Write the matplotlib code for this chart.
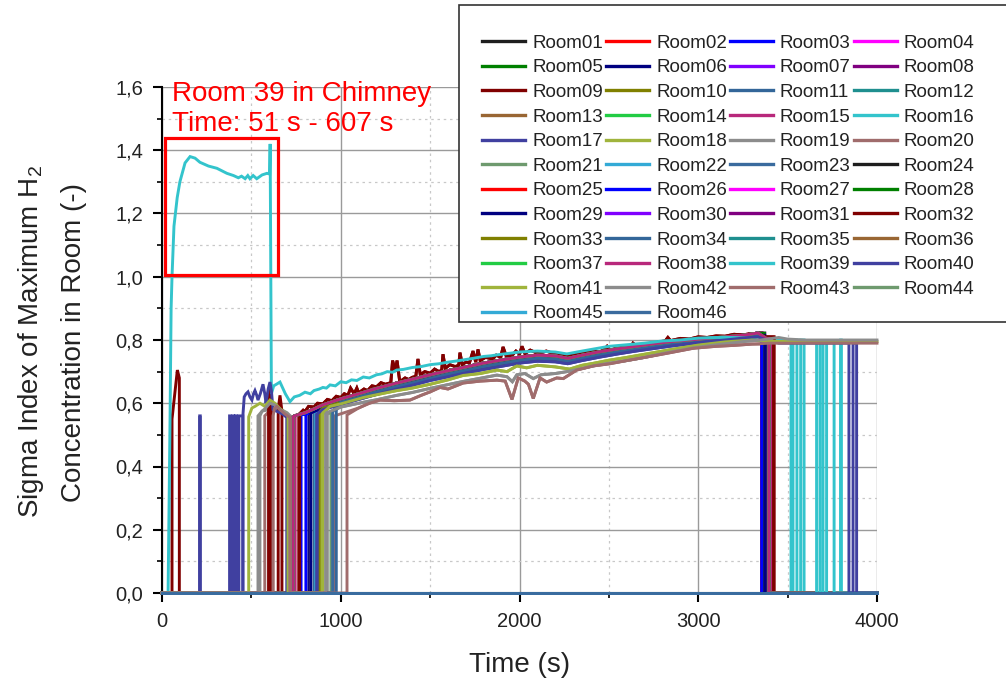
import matplotlib
matplotlib.use('Agg')
import matplotlib.pyplot as plt
from matplotlib.patches import Rectangle
from matplotlib.ticker import MultipleLocator, FuncFormatter

plt.rcParams['font.family'] = ['Liberation Sans', 'DejaVu Sans']
plt.rcParams['mathtext.fontset'] = 'custom'
plt.rcParams['mathtext.rm'] = 'Liberation Sans'
plt.rcParams['mathtext.it'] = 'Liberation Sans:italic'

rooms = ['Room%02d' % i for i in range(1, 47)]

# Origin-like palette, repeats after 23 rooms
palette = ['#1e1e1e', '#ff0000', '#0000ff', '#ff00ff', '#008000', '#000080',
           '#8000ff', '#800080', '#800000', '#808000', '#336699', '#1f8f8f',
           '#996633', '#22cc44', '#b8287b', '#33c4cc', '#4040a0', '#a0b43c',
           '#8c8c8c', '#a06c6c', '#6e9a6e', '#33aad6', '#3a6b9e']

# ---- plateau curves (time s, sigma index) ----
hi_t = [740, 800, 850, 900, 1000, 1100, 1200, 1300, 1400, 1500, 1600, 1700, 1800,
        1900, 2000, 2100, 2200, 2270, 2350, 2450, 2550, 2650, 2750, 2850, 2950,
        3050, 3150, 3250, 3334, 3380, 3450, 3600]
hi_v = [0.560, 0.570, 0.582, 0.595, 0.614, 0.630, 0.647, 0.662, 0.676, 0.690, 0.703,
        0.715, 0.727, 0.737, 0.746, 0.752, 0.750, 0.742, 0.752, 0.763, 0.772, 0.780,
        0.788, 0.795, 0.800, 0.805, 0.810, 0.815, 0.822, 0.805, 0.800, 0.800]

mhi_t = hi_t
mhi_v = [0.555, 0.564, 0.574, 0.585, 0.603, 0.619, 0.636, 0.651, 0.664, 0.678, 0.692,
         0.704, 0.716, 0.726, 0.735, 0.742, 0.740, 0.733, 0.742, 0.753, 0.763, 0.772,
         0.780, 0.788, 0.794, 0.800, 0.806, 0.811, 0.815, 0.800, 0.795, 0.795]

mid_t = [740, 800, 850, 900, 1000, 1100, 1200, 1300, 1400, 1500, 1600, 1700, 1800,
         1900, 2000, 2100, 2200, 2270, 2350, 2450, 2550, 2650, 2750, 2850, 2950,
         3050, 3150, 3250, 3334, 3380, 3450, 3600, 3800, 3900]
mid_v = [0.555, 0.562, 0.570, 0.580, 0.597, 0.612, 0.628, 0.643, 0.657, 0.672, 0.684,
         0.696, 0.707, 0.717, 0.727, 0.733, 0.731, 0.725, 0.735, 0.746, 0.756, 0.765,
         0.773, 0.781, 0.788, 0.795, 0.800, 0.806, 0.810, 0.800, 0.790, 0.790, 0.790, 0.790]

lo1_t = [900, 940, 1000, 1050, 1126, 1200, 1313, 1400, 1500, 1600, 1685, 1780, 1874,
         1930, 1985, 2040, 2100, 2200, 2280, 2350, 2420, 2500, 2600, 2700, 2850,
         3000, 3150, 3300, 3400, 3500, 3600, 3800, 4000]
lo1_v = [0.570, 0.590, 0.598, 0.606, 0.618, 0.627, 0.640, 0.648, 0.660, 0.674, 0.688,
         0.694, 0.705, 0.700, 0.718, 0.712, 0.720, 0.715, 0.708, 0.720, 0.727, 0.736,
         0.745, 0.755, 0.770, 0.784, 0.794, 0.800, 0.796, 0.795, 0.795, 0.795, 0.795]

lo2_t = [920, 1000, 1126, 1200, 1313, 1400, 1500, 1600, 1685, 1780, 1874, 1930, 1960,
         1985, 2030, 2077, 2120, 2200, 2265, 2350, 2420, 2506, 2600, 2700, 2825,
         2970, 3100, 3250, 3350, 3450, 3500, 3600, 3800, 4000]
lo2_v = [0.570, 0.588, 0.603, 0.611, 0.625, 0.634, 0.647, 0.659, 0.669, 0.679, 0.689,
         0.684, 0.668, 0.690, 0.694, 0.678, 0.690, 0.694, 0.700, 0.710, 0.719, 0.727,
         0.735, 0.745, 0.760, 0.775, 0.785, 0.795, 0.800, 0.808, 0.803, 0.800, 0.800, 0.800]

lo3_t = [1100, 1160, 1220, 1300, 1387, 1450, 1500, 1555, 1600, 1685, 1780, 1874,
         1920, 1958, 1993, 2030, 2050, 2077, 2115, 2152, 2208, 2245, 2320, 2413,
         2506, 2600, 2700, 2825, 2973, 3100, 3200, 3300, 3400, 3600, 3800, 4000]
lo3_v = [0.585, 0.600, 0.610, 0.608, 0.610, 0.625, 0.636, 0.650, 0.645, 0.664, 0.670,
         0.673, 0.670, 0.612, 0.680, 0.670, 0.660, 0.615, 0.680, 0.667, 0.680, 0.678,
         0.705, 0.718, 0.725, 0.735, 0.745, 0.758, 0.774, 0.780, 0.783, 0.787, 0.790,
         0.790, 0.790, 0.790]

spk_t = [765, 790, 800, 820, 850, 870, 900, 925, 950, 975, 1000, 1020, 1040, 1055,
         1075, 1090, 1100, 1130, 1150, 1175, 1200, 1225, 1250, 1280, 1290, 1305,
         1315, 1330, 1360, 1380, 1400, 1420, 1432, 1445, 1470, 1500, 1525, 1550,
         1565, 1572, 1585, 1610, 1640, 1660, 1667, 1680, 1700, 1720, 1740, 1755,
         1768, 1780, 1810, 1850, 1870, 1895, 1908, 1925, 1960, 1980, 2000, 2014,
         2030, 2060, 2100, 2150, 2200, 2240, 2270, 2310, 2350, 2400, 2440, 2470,
         2490, 2505, 2550, 2600, 2625, 2635, 2650, 2700, 2750, 2790, 2815, 2830,
         2845, 2900, 2950, 3000, 3050, 3100, 3150, 3200, 3250, 3290, 3334, 3380]
spk_v = [0.565, 0.578, 0.574, 0.590, 0.588, 0.600, 0.598, 0.612, 0.608, 0.622, 0.618,
         0.630, 0.625, 0.648, 0.630, 0.648, 0.633, 0.645, 0.640, 0.655, 0.652, 0.665,
         0.660, 0.665, 0.735, 0.700, 0.735, 0.668, 0.680, 0.675, 0.682, 0.685, 0.740,
         0.690, 0.700, 0.695, 0.708, 0.700, 0.705, 0.755, 0.710, 0.722, 0.716, 0.720,
         0.760, 0.722, 0.730, 0.728, 0.765, 0.730, 0.770, 0.735, 0.745, 0.740, 0.752,
         0.745, 0.778, 0.750, 0.752, 0.765, 0.755, 0.780, 0.757, 0.768, 0.758, 0.765,
         0.755, 0.752, 0.748, 0.755, 0.757, 0.766, 0.762, 0.767, 0.780, 0.768, 0.775,
         0.777, 0.780, 0.790, 0.783, 0.788, 0.790, 0.795, 0.797, 0.808, 0.798, 0.805,
         0.803, 0.810, 0.808, 0.813, 0.812, 0.818, 0.816, 0.820, 0.820, 0.810]

# Room 39 (chimney)
chim_t = [45, 51, 56, 67, 85, 100, 129, 157, 185, 212, 260, 307, 363, 400, 427, 445,
          465, 480, 492, 510, 530, 560, 587, 602, 605, 612, 625, 640, 660, 690, 716,
          740, 770, 800, 830, 850, 880, 900, 920, 940, 970, 1000, 1030, 1060, 1090,
          1126, 1160, 1200, 1230, 1260, 1290, 1313, 1350, 1400, 1450, 1500, 1550,
          1600, 1640, 1685, 1740, 1800, 1840, 1874, 1930, 2000, 2100, 2200, 2265,
          2350, 2500, 2600, 2700, 2800, 2900, 3000, 3100, 3200, 3300, 3340, 3400,
          3600, 3800]
chim_v = [0.550, 0.900, 1.000, 1.160, 1.250, 1.300, 1.360, 1.380, 1.375, 1.362, 1.350,
          1.343, 1.327, 1.320, 1.313, 1.318, 1.310, 1.320, 1.310, 1.320, 1.310, 1.322,
          1.327, 1.325, 1.420, 0.630, 0.655, 0.660, 0.667, 0.630, 0.605, 0.620, 0.625,
          0.635, 0.630, 0.640, 0.645, 0.650, 0.648, 0.658, 0.655, 0.668, 0.665, 0.674,
          0.672, 0.683, 0.680, 0.690, 0.693, 0.700, 0.698, 0.705, 0.707, 0.713, 0.716,
          0.722, 0.725, 0.730, 0.733, 0.737, 0.742, 0.748, 0.750, 0.753, 0.757, 0.762,
          0.765, 0.762, 0.756, 0.765, 0.780, 0.785, 0.790, 0.797, 0.800, 0.806, 0.808,
          0.808, 0.805, 0.798, 0.795, 0.795, 0.795]

curve_t = {'hi': hi_t, 'mhi': mhi_t, 'mid': mid_t, 'lo1': lo1_t, 'lo2': lo2_t,
           'lo3': lo3_t, 'spk': spk_t, 'chim': chim_t}
curve_v = {'hi': hi_v, 'mhi': mhi_v, 'mid': mid_v, 'lo1': lo1_v, 'lo2': lo2_v,
           'lo3': lo3_v, 'spk': spk_v, 'chim': chim_v}

# per room: curve followed, time it appears, first value, time it vanishes (None = to 4000 s)
room_curve = ['hi', 'hi', 'mhi', 'hi', 'hi', 'mhi', 'hi', 'hi', 'spk', 'mhi',
              'mhi', 'hi', 'mhi', 'hi', 'hi', 'hi', 'mid', 'lo1', 'lo2', 'lo3',
              'mhi', 'mhi', 'mhi', 'hi', 'hi', 'mhi', 'hi', 'hi', 'mhi', 'hi',
              'hi', 'spk', 'mhi', 'mhi', 'hi', 'hi', 'hi', 'hi', 'chim', 'mid',
              'lo1', 'lo2', 'lo3', None, None, None]
t_on = [775, 775, 805, 775, 775, 822, 775, 775, 765, 880,
        850, 775, 830, 775, 745, 775, 870, 900, 925, 965,
        945, 860, 955, 733, 733, 778, 733, 733, 832, 733,
        733, 770, 885, 975, 733, 733, 733, 733, 34, 865,
        895, 915, 1035, None, None, None]
v_on = [0.565, 0.565, 0.570, 0.565, 0.565, 0.570, 0.565, 0.565, 0.565, 0.575,
        0.570, 0.565, 0.570, 0.565, 0.560, 0.565, 0.565, 0.565, 0.565, 0.560,
        0.570, 0.570, 0.575, 0.557, 0.557, 0.565, 0.557, 0.557, 0.570, 0.557,
        0.557, 0.565, 0.575, 0.580, 0.557, 0.557, 0.557, 0.557, 0.0, 0.565,
        0.565, 0.565, 0.563, None, None, None]
t_off = [3355, 3355, 3362, 3355, 3355, 3382, 3355, 3355, 3420, 3355,
         3355, 3355, 3355, 3355, 3405, 3800, 3355, 3355, 3355, 3355,
         3355, 3355, 3355, 3355, 3355, 3355, 3372, 3372, 3372, 3395,
         3395, 3425, 3395, 3395, 3395, 3395, 3395, 3395, 3760, 3886,
         None, None, None, None, None, None]
# intervals where a room drops back to zero near the end
gaps = {16: [(3519, 3530), (3552, 3573), (3592, 3797)],
        39: [(3662, 3681), (3698, 3718)],
        40: [(3843, 3866)]}

# short early appearances before the main rise
early_room = [9, 17, 17, 17, 17, 17, 40, 41, 19, 42, 20, 32, 43, 32]
early_t = [[56, 86, 97], [211, 214], [378, 383], [397, 401], [412, 416],
           [430, 452], [453, 460, 470, 481, 492, 503, 512, 520, 530, 537, 550, 565,
                        575, 582, 594, 604, 612, 621, 640, 660, 677, 698],
           [485, 503, 520, 548, 575, 604, 632, 660, 690, 705],
           [537, 560, 600, 650, 700, 727],
           [548, 560, 580, 604, 630, 660, 690, 716],
           [575, 600, 621],
           [596, 600, 606, 612],
           [621, 630, 643, 660, 690, 716],
           [650, 660, 671]]
early_v = [[0.550, 0.705, 0.680], [0.560, 0.560], [0.560, 0.560], [0.560, 0.560],
           [0.560, 0.560], [0.560, 0.560],
           [0.565, 0.620, 0.630, 0.636, 0.620, 0.610, 0.630, 0.640, 0.625, 0.610,
            0.630, 0.660, 0.630, 0.600, 0.645, 0.667, 0.640, 0.580, 0.575, 0.570,
            0.565, 0.555],
           [0.557, 0.585, 0.590, 0.600, 0.590, 0.610, 0.600, 0.583, 0.570, 0.560],
           [0.560, 0.575, 0.580, 0.585, 0.570, 0.555],
           [0.560, 0.575, 0.585, 0.600, 0.595, 0.580, 0.570, 0.555],
           [0.560, 0.575, 0.570],
           [0.580, 0.645, 0.620, 0.580],
           [0.560, 0.585, 0.590, 0.580, 0.565, 0.555],
           [0.580, 0.625, 0.575]]


def room_series(n):
    pts = [(0.0, 0.0)]
    for r, et, ev in zip(early_room, early_t, early_v):
        if r == n:
            pts += [(et[0], 0.0)] + list(zip(et, ev)) + [(et[-1], 0.0)]
    key = room_curve[n - 1]
    if key is None:
        pts.append((4000, 0.0))
    else:
        ton, toff = t_on[n - 1], t_off[n - 1]
        end = 4000 if toff is None else toff
        g = gaps.get(n, [])
        pts += [(ton, 0.0), (ton, v_on[n - 1])]
        last = v_on[n - 1]
        for t, v in zip(curve_t[key], curve_v[key]):
            for a, b in g:
                if pts[-1][0] < a <= t:
                    pts += [(a, last), (a, 0.0), (b, 0.0), (b, last)]
            if ton < t < end and not any(a <= t <= b for a, b in g):
                pts.append((t, v))
                last = v
        if toff is None:
            pts.append((4000, last))
        else:
            pts += [(toff, last), (toff, 0.0), (4000, 0.0)]
    return [p[0] for p in pts], [p[1] for p in pts]


W, H = 1006, 681
fig = plt.figure(figsize=(W / 100, H / 100), dpi=100)
ax = fig.add_axes([162 / W, 1 - 593 / H, 715 / W, 506 / H])

handles = []
for n in range(1, 47):
    xs, ys = room_series(n)
    ln, = ax.plot(xs, ys, color=palette[(n - 1) % 23], lw=2.1, zorder=3,
                  clip_on=False, solid_joinstyle='miter')
    handles.append(ln)

ax.set_xlim(0, 4000)
ax.set_ylim(0, 1.6)
ax.xaxis.set_major_locator(MultipleLocator(1000))
ax.xaxis.set_minor_locator(MultipleLocator(500))
ax.yaxis.set_major_locator(MultipleLocator(0.2))
ax.yaxis.set_minor_locator(MultipleLocator(0.1))
ax.yaxis.set_major_formatter(FuncFormatter(lambda v, p: ('%.1f' % v).replace('.', ',')))
ax.grid(which='major', color='#9a9a9a', lw=1.0, ls='-')
ax.grid(which='minor', color='#c8c8c8', lw=0.9, ls=(0, (2, 3)))
ax.set_axisbelow(True)
for s in ['top', 'right']:
    ax.spines[s].set_visible(False)
for s in ['left', 'bottom']:
    ax.spines[s].set_linewidth(1.5)
    ax.spines[s].set_zorder(2)
ax.tick_params(which='major', direction='out', length=6.5, width=1.5, pad=7,
               labelsize=14.5, labelcolor='#222222')
ax.tick_params(which='minor', direction='out', length=3.5, width=1.2)

ax.set_xlabel('Time (s)', fontsize=20, color='#222222', labelpad=15)
fig.text(52 / W, 1 - 342 / H, 'Sigma Index of Maximum H$_2$\nConcentration in Room (-)',
         fontsize=20, color='#222222', rotation=90, ha='center', va='center',
         linespacing=1.75, multialignment='center')

ax.add_patch(Rectangle((17, 1.005), 630, 0.435, fill=False, edgecolor='#ff0000',
                       lw=2.3, zorder=4, clip_on=False))
ax.text(56, 1.556, 'Room 39 in Chimney', color='#ff0000', fontsize=20,
        va='baseline', ha='left', zorder=5)
ax.text(56, 1.461, 'Time: 51 s - 607 s', color='#ff0000', fontsize=20,
        va='baseline', ha='left', zorder=5)

# legend frame (drawn separately, it runs off the right edge)
fig.patches.append(Rectangle((459 / W, 1 - 322 / H), 560 / W, 317 / H,
                             transform=fig.transFigure, facecolor='white',
                             edgecolor='#333333', lw=1.2, zorder=4))
order = [i for c in range(4) for i in range(c, 46, 4)]
leg = fig.legend([handles[i] for i in order], [rooms[i] for i in order], ncol=4,
                 loc='upper left', bbox_to_anchor=(482 / W, 1 - 34.5 / H),
                 fontsize=13.5, handlelength=2.3, handletextpad=0.37,
                 columnspacing=0.16, labelspacing=0.4, borderpad=0,
                 borderaxespad=0, frameon=False)
leg.set_zorder(5)
for h in leg.legend_handles:
    h.set_linewidth(2.4)
for t in leg.get_texts():
    t.set_color('#222222')

fig.savefig('out.png', dpi=100)
